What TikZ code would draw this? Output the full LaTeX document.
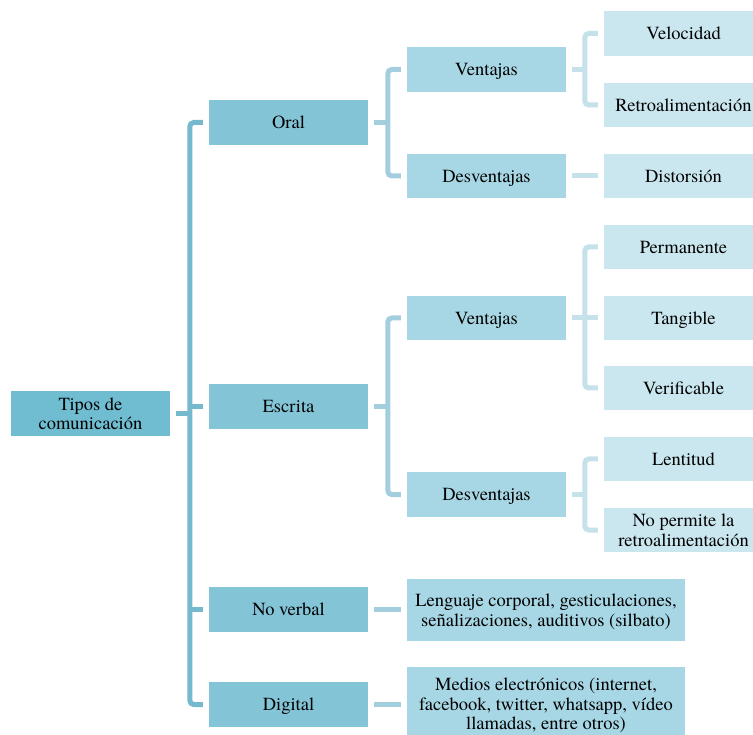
\documentclass[tikz,border=0pt]{standalone}
\usepackage{fontspec}
\setmainfont{texgyretermes-regular.otf}
\definecolor{fA}{HTML}{70BCD0}
\definecolor{fB}{HTML}{83C5D7}
\definecolor{fC}{HTML}{A7D6E4}
\definecolor{fD}{HTML}{CAE6EF}
\definecolor{kA}{HTML}{74B9CE}
\definecolor{kB}{HTML}{A3CEDD}
\definecolor{kC}{HTML}{C5E1EA}
\begin{document}
\begin{tikzpicture}[x=1pt,y=-1pt,
  box/.style={rectangle, minimum width=159pt, minimum height=44.5pt, inner sep=0pt,
    text depth=0pt, align=center, font=\rmfamily\fontsize{18.5}{19.5}\selectfont},
  lvA/.style={box, fill=fA},
  lvB/.style={box, fill=fB},
  lvC/.style={box, fill=fC},
  lvD/.style={box, fill=fD},
  lnA/.style={draw=kA, line width=5pt, rounded corners=4pt},
  lnB/.style={draw=kB, line width=5pt, rounded corners=4pt},
  lnC/.style={draw=kC, line width=5pt, rounded corners=4pt}]
\useasboundingbox (0,0) rectangle (753,735);
\clip (0,0) rectangle (753,735);
% root
\node[lvA] (root) at (90.5,413.5) {Tipos de\\comunicación};
% level 1
\node[lvB] (oral) at (288.5,122.5) {Oral};
\node[lvB] (escrita) at (288.5,406.5) {Escrita};
\node[lvB] (noverbal) at (288.5,609.5) {No verbal};
\node[lvB] (digital) at (288.5,704.5) {Digital};
% level 2
\node[lvC] (ventA) at (486.5,69.5) {Ventajas};
\node[lvC] (desvA) at (486.5,176) {Desventajas};
\node[lvC] (ventB) at (486.5,318) {Ventajas};
\node[lvC] (desvB) at (486.5,494.5) {Desventajas};
\node[lvC, minimum width=278pt, minimum height=62pt] (lenguaje) at (546,610)
  {Lenguaje corporal, gesticulaciones,\\señalizaciones, auditivos (silbato)};
\node[lvC, minimum width=278pt, minimum height=74pt] (medios) at (546,704)
  {Medios electrónicos (internet,\\facebook, twitter, whatsapp, vídeo\\llamadas, entre otros)};
% level 3
\node[lvD] (velocidad) at (683.5,33.5) {Velocidad};
\node[lvD] (retroA) at (683.5,105) {Retroalimentación};
\node[lvD] (distorsion) at (683.5,176) {Distorsión};
\node[lvD] (permanente) at (683.5,247) {Permanente};
\node[lvD] (tangible) at (683.5,318) {Tangible};
\node[lvD] (verificable) at (683.5,388) {Verificable};
\node[lvD] (lentitud) at (683.5,459) {Lentitud};
\node[lvD] (nopermite) at (683.5,530) {No permite la\\retroalimentación};
% connectors level A
\draw[lnA] ([xshift=6pt]root.east) -- ++(14,0);
\draw[lnA] ([xshift=-6pt]oral.west) -- ++(-13,0) |- ([xshift=-6pt]digital.west);
\draw[lnA] ([xshift=-6pt]escrita.west) -- ++(-13,0);
\draw[lnA] ([xshift=-6pt]noverbal.west) -- ++(-13,0);
% connectors level B
\draw[lnB] ([xshift=6pt]oral.east) -- ++(14,0);
\draw[lnB] ([xshift=-6pt]ventA.west) -- ++(-13,0) |- ([xshift=-6pt]desvA.west);
\draw[lnB] ([xshift=6pt]escrita.east) -- ++(14,0);
\draw[lnB] ([xshift=-6pt]ventB.west) -- ++(-13,0) |- ([xshift=-6pt]desvB.west);
\draw[lnB] ([xshift=6pt]noverbal.east) -- ([xshift=-6pt]noverbal.east -| lenguaje.west);
\draw[lnB] ([xshift=6pt]digital.east) -- ([xshift=-6pt]digital.east -| medios.west);
% connectors level C
\draw[lnC] ([xshift=6pt]ventA.east) -- ++(14,0);
\draw[lnC] ([xshift=-6pt]velocidad.west) -- ++(-13,0) |- ([xshift=-6pt]retroA.west);
\draw[lnC] ([xshift=6pt]desvA.east) -- ([xshift=-6pt]distorsion.west);
\draw[lnC] ([xshift=6pt]ventB.east) -- ++(14,0);
\draw[lnC] ([xshift=-6pt]permanente.west) -- ++(-13,0) |- ([xshift=-6pt]verificable.west);
\draw[lnC] ([xshift=-6pt]tangible.west) -- ++(-13,0);
\draw[lnC] ([xshift=6pt]desvB.east) -- ++(14,0);
\draw[lnC] ([xshift=-6pt]lentitud.west) -- ++(-13,0) |- ([xshift=-6pt]nopermite.west);
\end{tikzpicture}
\end{document}
